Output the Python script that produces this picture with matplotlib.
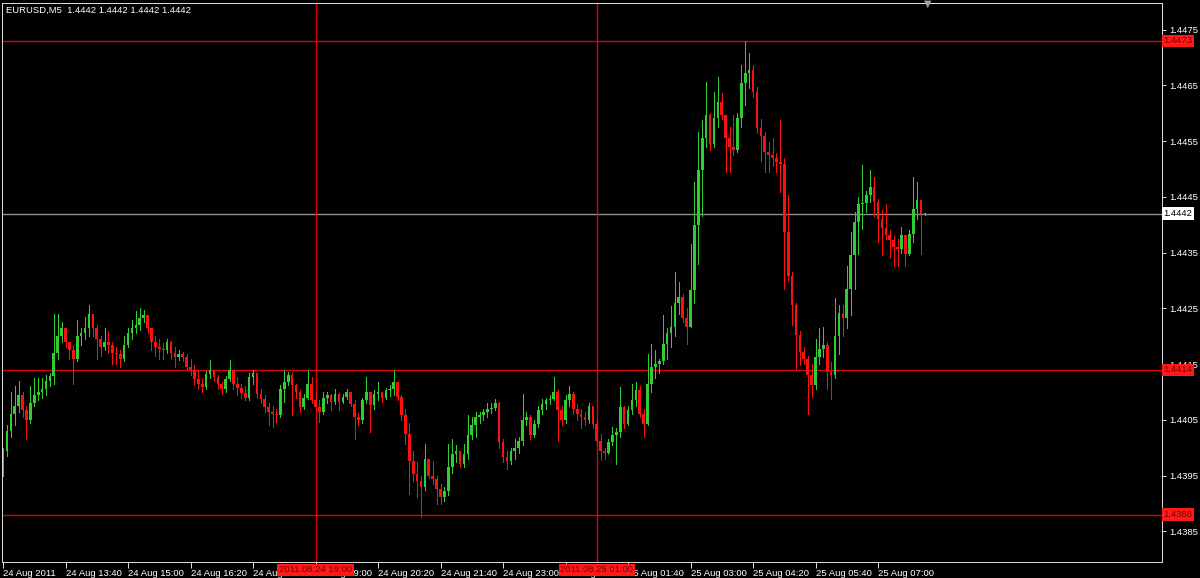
import numpy as np
import matplotlib
matplotlib.use("Agg")
import matplotlib.pyplot as plt
import matplotlib.transforms as mtransforms

plt.rcParams['font.family'] = ['Liberation Sans', 'DejaVu Sans']

# EURUSD M5, 24 Aug 2011 12:20 -> 25 Aug 2011 07:55 (one bar every 5 minutes)
first_open = 1.43955

close = [
    1.43995, 1.44030, 1.44060, 1.44075, 1.44095, 1.44068, 1.44050, 1.44080, 1.44095, 1.44100,
    1.44105, 1.44120, 1.44128, 1.44170, 1.44200, 1.44215, 1.44190, 1.44175, 1.44160, 1.44200,
    1.44205, 1.44215, 1.44240, 1.44215, 1.44195, 1.44180, 1.44190, 1.44185, 1.44170, 1.44168,
    1.44160, 1.44185, 1.44205, 1.44215, 1.44220, 1.44232, 1.44238, 1.44215, 1.44190, 1.44181,
    1.44178, 1.44175, 1.44190, 1.44170, 1.44163, 1.44168, 1.44163, 1.44145, 1.44139, 1.44124,
    1.44115, 1.44109, 1.44133, 1.44139, 1.44127, 1.44115, 1.44106, 1.44124, 1.44139, 1.44115,
    1.44108, 1.44098, 1.44090, 1.44127, 1.44135, 1.44097, 1.44088, 1.44073, 1.44064, 1.44061,
    1.44058, 1.44106, 1.44118, 1.44130, 1.44112, 1.44100, 1.44073, 1.44090, 1.44115, 1.44085,
    1.44073, 1.44064, 1.44090, 1.44094, 1.44082, 1.44097, 1.44082, 1.44091, 1.44100, 1.44079,
    1.44055, 1.44049, 1.44085, 1.44100, 1.44076, 1.44097, 1.44100, 1.44090, 1.44103, 1.44106,
    1.44118, 1.44091, 1.44058, 1.44025, 1.43977, 1.43953, 1.43941, 1.43929, 1.43980, 1.43950,
    1.43944, 1.43926, 1.43911, 1.43923, 1.43965, 1.43989, 1.43995, 1.43971, 1.43989, 1.44022,
    1.44040, 1.44055, 1.44058, 1.44064, 1.44070, 1.44072, 1.44080, 1.44010, 1.43983, 1.43977,
    1.43995, 1.44000, 1.44013, 1.44049, 1.44055, 1.44022, 1.44043, 1.44067, 1.44079, 1.44085,
    1.44088, 1.44100, 1.44067, 1.44050, 1.44085, 1.44097, 1.44070, 1.44060, 1.44055, 1.44049,
    1.44075, 1.44043, 1.44013, 1.43995, 1.43990, 1.44010, 1.44022, 1.44028, 1.44073, 1.44043,
    1.44067, 1.44085, 1.44103, 1.44061, 1.44043, 1.44115, 1.44145, 1.44150, 1.44155, 1.44187,
    1.44205, 1.44217, 1.44260, 1.44270, 1.44232, 1.44217, 1.44283, 1.44400, 1.44498, 1.44555,
    1.44597, 1.44545, 1.44591, 1.44621, 1.44597, 1.44555, 1.44540, 1.44535, 1.44591, 1.44654,
    1.44672, 1.44678, 1.44639, 1.44573, 1.44560, 1.44530, 1.44525, 1.44519, 1.44513, 1.44510,
    1.44387, 1.44309, 1.44256, 1.44202, 1.44172, 1.44160, 1.44130, 1.44112, 1.44163, 1.44178,
    1.44184, 1.44136, 1.44130, 1.44200, 1.44241, 1.44232, 1.44285, 1.44345, 1.44405, 1.44438,
    1.44440, 1.44453, 1.44468, 1.44441, 1.44411, 1.44395, 1.44381, 1.44372, 1.44360, 1.44357,
    1.44381, 1.44348, 1.44384, 1.44429, 1.44444, 1.44420, 1.44420,
]

high = [
    1.44000, 1.44040, 1.44100, 1.44110, 1.44120, 1.44100, 1.44075, 1.44110, 1.44125, 1.44125,
    1.44125, 1.44130, 1.44135, 1.44240, 1.44240, 1.44225, 1.44215, 1.44190, 1.44185, 1.44230,
    1.44215, 1.44235, 1.44256, 1.44240, 1.44220, 1.44200, 1.44215, 1.44210, 1.44190, 1.44180,
    1.44175, 1.44200, 1.44215, 1.44230, 1.44245, 1.44250, 1.44248, 1.44238, 1.44215, 1.44200,
    1.44195, 1.44188, 1.44195, 1.44192, 1.44180, 1.44175, 1.44172, 1.44168, 1.44160, 1.44148,
    1.44140, 1.44125, 1.44138, 1.44157, 1.44140, 1.44130, 1.44118, 1.44128, 1.44157, 1.44140,
    1.44127, 1.44115, 1.44110, 1.44135, 1.44139, 1.44135, 1.44105, 1.44095, 1.44080, 1.44075,
    1.44070, 1.44112, 1.44140, 1.44136, 1.44135, 1.44115, 1.44103, 1.44097, 1.44139, 1.44127,
    1.44100, 1.44085, 1.44100, 1.44100, 1.44096, 1.44105, 1.44098, 1.44096, 1.44106, 1.44100,
    1.44085, 1.44062, 1.44090, 1.44127, 1.44100, 1.44103, 1.44118, 1.44100, 1.44108, 1.44112,
    1.44139, 1.44118, 1.44095, 1.44070, 1.44045, 1.43995, 1.43975, 1.43950, 1.44007, 1.43980,
    1.43977, 1.43950, 1.43935, 1.43930, 1.44007, 1.44016, 1.44005, 1.43995, 1.44007, 1.44058,
    1.44055, 1.44065, 1.44065, 1.44070, 1.44080, 1.44080, 1.44088, 1.44082, 1.44015, 1.43995,
    1.44000, 1.44015, 1.44020, 1.44097, 1.44065, 1.44058, 1.44050, 1.44075, 1.44088, 1.44090,
    1.44095, 1.44127, 1.44103, 1.44075, 1.44095, 1.44110, 1.44100, 1.44078, 1.44070, 1.44065,
    1.44080, 1.44075, 1.44050, 1.44025, 1.44000, 1.44015, 1.44037, 1.44035, 1.44109, 1.44075,
    1.44075, 1.44115, 1.44118, 1.44110, 1.44070, 1.44168, 1.44186, 1.44175, 1.44160, 1.44238,
    1.44215, 1.44255, 1.44315, 1.44297, 1.44275, 1.44250, 1.44366, 1.44477, 1.44567, 1.44588,
    1.44657, 1.44600, 1.44639, 1.44666, 1.44636, 1.44597, 1.44575, 1.44597, 1.44600, 1.44687,
    1.44729, 1.44708, 1.44687, 1.44648, 1.44590, 1.44567, 1.44549, 1.44555, 1.44528, 1.44588,
    1.44519, 1.44453, 1.44315, 1.44260, 1.44210, 1.44180, 1.44165, 1.44150, 1.44196, 1.44214,
    1.44217, 1.44190, 1.44154, 1.44268, 1.44256, 1.44256, 1.44327, 1.44387, 1.44423, 1.44450,
    1.44507, 1.44460, 1.44498, 1.44486, 1.44447, 1.44426, 1.44438, 1.44390, 1.44380, 1.44375,
    1.44396, 1.44375, 1.44390, 1.44486, 1.44477, 1.44440, 1.44422,
]

low = [
    1.43950, 1.43985, 1.44020, 1.44040, 1.44065, 1.44055, 1.44015, 1.44045, 1.44075, 1.44085,
    1.44090, 1.44095, 1.44110, 1.44115, 1.44160, 1.44190, 1.44180, 1.44160, 1.44115, 1.44155,
    1.44185, 1.44195, 1.44200, 1.44200, 1.44160, 1.44165, 1.44175, 1.44170, 1.44150, 1.44150,
    1.44145, 1.44155, 1.44180, 1.44195, 1.44205, 1.44212, 1.44225, 1.44205, 1.44175, 1.44165,
    1.44160, 1.44160, 1.44170, 1.44160, 1.44145, 1.44158, 1.44155, 1.44140, 1.44130, 1.44115,
    1.44105, 1.44100, 1.44105, 1.44125, 1.44120, 1.44105, 1.44097, 1.44100, 1.44120, 1.44105,
    1.44095, 1.44090, 1.44085, 1.44085, 1.44115, 1.44090, 1.44080, 1.44065, 1.44040, 1.44037,
    1.44046, 1.44055, 1.44082, 1.44112, 1.44058, 1.44090, 1.44065, 1.44070, 1.44088, 1.44080,
    1.44065, 1.44046, 1.44060, 1.44080, 1.44067, 1.44078, 1.44067, 1.44080, 1.44088, 1.44075,
    1.44016, 1.44040, 1.44045, 1.44080, 1.44028, 1.44070, 1.44085, 1.44082, 1.44088, 1.44092,
    1.44095, 1.44085, 1.44050, 1.44007, 1.43917, 1.43940, 1.43911, 1.43875, 1.43925, 1.43945,
    1.43935, 1.43899, 1.43899, 1.43905, 1.43915, 1.43955, 1.43975, 1.43965, 1.43965, 1.43980,
    1.44015, 1.44020, 1.44045, 1.44050, 1.44055, 1.44062, 1.44068, 1.44000, 1.43975, 1.43962,
    1.43970, 1.43980, 1.43990, 1.44005, 1.44040, 1.44015, 1.44020, 1.44038, 1.44060, 1.44070,
    1.44078, 1.44085, 1.44013, 1.44040, 1.44045, 1.44075, 1.44060, 1.44050, 1.44035, 1.44040,
    1.44045, 1.44035, 1.44005, 1.43978, 1.43980, 1.43988, 1.44005, 1.43970, 1.44020, 1.44035,
    1.44040, 1.44060, 1.44075, 1.44055, 1.44020, 1.44040, 1.44100, 1.44125, 1.44135, 1.44150,
    1.44160, 1.44180, 1.44200, 1.44240, 1.44225, 1.44187, 1.44230, 1.44260, 1.44330, 1.44415,
    1.44540, 1.44535, 1.44540, 1.44575, 1.44590, 1.44495, 1.44495, 1.44525, 1.44530, 1.44575,
    1.44615, 1.44645, 1.44630, 1.44565, 1.44515, 1.44495, 1.44495, 1.44505, 1.44495, 1.44459,
    1.44285, 1.44300, 1.44220, 1.44142, 1.44148, 1.44150, 1.44061, 1.44091, 1.44105, 1.44150,
    1.44163, 1.44106, 1.44088, 1.44125, 1.44169, 1.44200, 1.44214, 1.44238, 1.44285, 1.44348,
    1.44393, 1.44423, 1.44441, 1.44415, 1.44369, 1.44345, 1.44375, 1.44342, 1.44327, 1.44327,
    1.44350, 1.44327, 1.44345, 1.44370, 1.44410, 1.44348, 1.44418,
]

time_labels = ["24 Aug 2011", "24 Aug 13:40", "24 Aug 15:00", "24 Aug 16:20", "24 Aug 17:40",
               "24 Aug 19:00", "24 Aug 20:20", "24 Aug 21:40", "24 Aug 23:00", "25 Aug 00:20",
               "25 Aug 01:40", "25 Aug 03:00", "25 Aug 04:20", "25 Aug 05:40", "25 Aug 07:00"]
bars_per_label = 16

price_ticks = [1.4385, 1.4395, 1.4405, 1.4415, 1.4425, 1.4435, 1.4445, 1.4455, 1.4465, 1.4475]
red_levels = [1.4473, 1.4414, 1.4388]
bid_level = 1.4442
vline_bars = [80, 152]
vline_labels = ["2011.08.24 19:00", "2011.08.25 01:00"]
symbol = "EURUSD,M5"

# ---- candles
c = np.array(close)
o = np.concatenate([[first_open], c[:-1]])
h = np.maximum(np.array(high), np.maximum(o, c))
l = np.minimum(np.array(low), np.minimum(o, c))
idx = np.arange(len(c))
up = c >= o
bull, bear = '#32cd32', '#ff1010'
cols = np.where(up, bull, bear)

px = 0.72  # one pixel at 100 dpi

fig = plt.figure(figsize=(12, 5.78), dpi=100, facecolor='black')
ax = fig.add_axes([2 / 1200, 1 - 562 / 578, 1160 / 1200, 559 / 578], facecolor='black')

# level lines (drawn under the candles)
for lv in red_levels:
    ax.axhline(lv, color='#e00000', linewidth=1.0, zorder=1)
ax.axhline(bid_level, color='#909090', linewidth=1.0, zorder=1)
for vb in vline_bars:
    ax.axvline(vb, color='#e00000', linewidth=1.0, zorder=1)

ax.vlines(idx, l, h, colors=cols, linewidth=px, antialiased=False, zorder=2)
body = np.maximum(np.abs(c - o), 0.000015)
ax.bar(idx, body, bottom=np.minimum(o, c), width=0.68, color=cols, linewidth=0,
       antialiased=False, zorder=2)

ax.set_xlim(-0.26, 296.7)
ax.set_ylim(1.43795, 1.44798)

for s in ax.spines.values():
    s.set_color('#d8d8d8')
    s.set_linewidth(px)

# time axis
ax.set_xticks(np.arange(len(time_labels)) * bars_per_label)
ax.set_xticklabels(time_labels)
ax.tick_params(axis='x', colors='#d8d8d8', length=4, width=px, pad=1, labelsize=6.8,
               labelcolor='white')
for lbl in ax.get_xticklabels():
    lbl.set_horizontalalignment('left')

# price axis
ax.yaxis.tick_right()
ax.set_yticks(price_ticks)
ax.set_yticklabels([f"{p:.4f}" for p in price_ticks])
ax.tick_params(axis='y', colors='#d8d8d8', length=3, width=px, pad=2, labelsize=6.8,
               labelcolor='white')

ytrans = mtransforms.blended_transform_factory(ax.transAxes, ax.transData)
for lv in red_levels:
    ax.text(1.0015, lv, f"{lv:.4f}", transform=ytrans, ha='left', va='center',
            fontsize=6.8, color='#7a0000', clip_on=False, zorder=5,
            bbox=dict(boxstyle='square,pad=0.18', fc='#ff1a1a', ec='none'))
ax.text(1.0015, bid_level, f"{bid_level:.4f}", transform=ytrans, ha='left', va='center',
        fontsize=6.8, color='black', clip_on=False, zorder=5,
        bbox=dict(boxstyle='square,pad=0.18', fc='white', ec='none'))

xtrans = mtransforms.blended_transform_factory(ax.transData, ax.transAxes)
for vb, txt in zip(vline_bars, vline_labels):
    ax.text(vb, -0.006, txt, transform=xtrans, ha='center', va='top', fontsize=6.8,
            color='#7a0000', clip_on=False, zorder=5,
            bbox=dict(boxstyle='square,pad=0.18', fc='#ff1a1a', ec='none'))

# header and chart shift marker
fig.text(6 / 1200, 1 - 10 / 578, f"{symbol}  " + " ".join([f"{close[-1]:.4f}"] * 4),
         color='white', fontsize=6.8, va='center', ha='left')
fig.text(928 / 1200, 1 - 4 / 578, "\u25bc", color='#a0a0a0', fontsize=7,
         ha='center', va='center', family='DejaVu Sans')

fig.savefig("out.png", dpi=100, facecolor='black')
